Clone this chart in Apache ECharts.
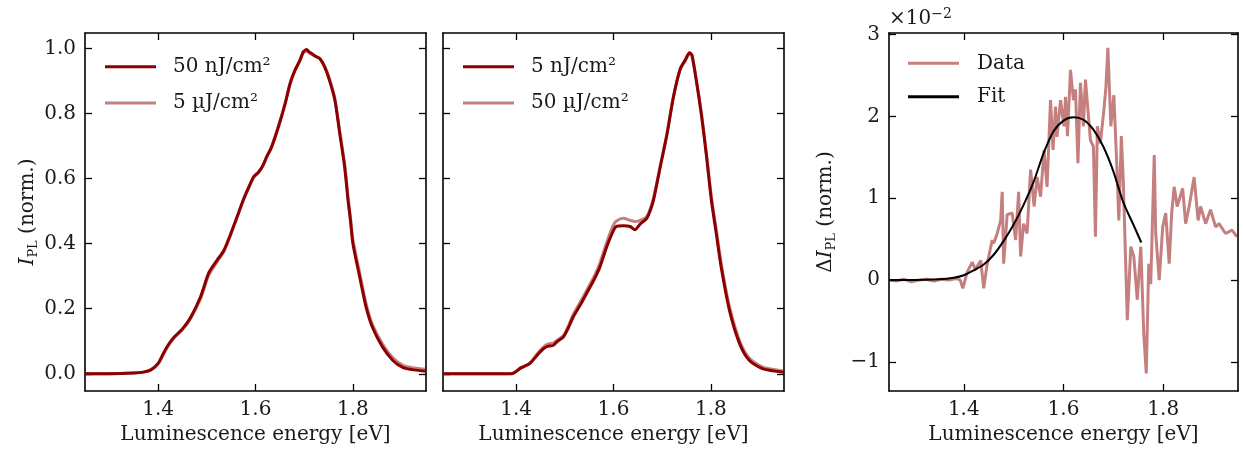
<!DOCTYPE html>
<html>
<head>
<meta charset="utf-8">
<script src="https://cdn.jsdelivr.net/npm/echarts@6/dist/echarts.min.js"></script>
<style>
  html, body { margin: 0; padding: 0; background: #fff; }
  #chart { width: 1243px; height: 457px; }
</style>
</head>
<body>
<div id="chart"></div>
<script>
// ---- Tick positions -------------------------------------------------------
const xTicks = [1.4, 1.6, 1.8];
const yTicksPL = [0.0, 0.2, 0.4, 0.6, 0.8, 1.0];
const yTicksDiff = [-1, 0, 1, 2, 3];

// ---- Panel 1: normalised PL, 50 nJ/cm² vs 5 µJ/cm² ------------------------
const p1Energy = [1.25, 1.30, 1.35, 1.37, 1.385, 1.40, 1.41, 1.42, 1.433, 1.45, 1.467, 1.487,
  1.504, 1.521, 1.535, 1.548, 1.562, 1.575, 1.585, 1.596, 1.606, 1.615, 1.623, 1.633, 1.647,
  1.661, 1.671, 1.681, 1.691, 1.698, 1.705, 1.710, 1.715, 1.725, 1.732, 1.742, 1.752, 1.763,
  1.773, 1.783, 1.790, 1.795, 1.800, 1.814, 1.827, 1.840, 1.861, 1.882, 1.902, 1.925, 1.95];
const p1Low = [0.000, 0.000, 0.002, 0.005, 0.012, 0.032, 0.060, 0.087, 0.113, 0.138, 0.174, 0.236,
  0.310, 0.349, 0.379, 0.426, 0.482, 0.535, 0.570, 0.605, 0.620, 0.640, 0.667, 0.697, 0.759,
  0.831, 0.892, 0.933, 0.964, 0.990, 0.997, 0.990, 0.985, 0.975, 0.969, 0.943, 0.902, 0.841,
  0.738, 0.636, 0.533, 0.470, 0.400, 0.297, 0.205, 0.143, 0.082, 0.041, 0.020, 0.012, 0.008];
const p1High = [0.000, 0.000, 0.002, 0.005, 0.011, 0.030, 0.057, 0.084, 0.110, 0.135, 0.170, 0.230,
  0.303, 0.344, 0.376, 0.423, 0.480, 0.533, 0.568, 0.603, 0.618, 0.640, 0.668, 0.699, 0.762,
  0.834, 0.894, 0.934, 0.962, 0.986, 0.993, 0.988, 0.983, 0.975, 0.970, 0.946, 0.906, 0.846,
  0.745, 0.645, 0.543, 0.481, 0.412, 0.309, 0.216, 0.152, 0.091, 0.049, 0.027, 0.018, 0.014];

// ---- Panel 2: normalised PL, 5 nJ/cm² vs 50 µJ/cm² ------------------------
const p2Energy = [1.25, 1.30, 1.35, 1.391, 1.41, 1.428, 1.445, 1.456, 1.466, 1.476, 1.485, 1.497,
  1.507, 1.517, 1.535, 1.552, 1.562, 1.572, 1.586, 1.600, 1.606, 1.620, 1.634, 1.644, 1.655,
  1.668, 1.675, 1.682, 1.696, 1.710, 1.723, 1.737, 1.747, 1.756, 1.761, 1.771, 1.781, 1.791,
  1.801, 1.811, 1.821, 1.838, 1.859, 1.879, 1.907, 1.95];
const p2Low = [0.000, 0.000, 0.000, 0.000, 0.018, 0.031, 0.060, 0.077, 0.085, 0.087, 0.100, 0.113,
  0.140, 0.174, 0.220, 0.267, 0.295, 0.328, 0.390, 0.441, 0.453, 0.455, 0.453, 0.443, 0.461,
  0.477, 0.500, 0.533, 0.636, 0.738, 0.851, 0.938, 0.964, 0.987, 0.980, 0.892, 0.790, 0.667,
  0.533, 0.431, 0.328, 0.195, 0.092, 0.041, 0.015, 0.005];
const p2High = [0.000, 0.000, 0.000, 0.001, 0.019, 0.033, 0.064, 0.082, 0.092, 0.094, 0.104, 0.117,
  0.146, 0.181, 0.229, 0.276, 0.305, 0.340, 0.404, 0.458, 0.470, 0.478, 0.472, 0.468, 0.472,
  0.483, 0.506, 0.540, 0.640, 0.740, 0.852, 0.936, 0.962, 0.984, 0.979, 0.895, 0.796, 0.675,
  0.543, 0.443, 0.340, 0.207, 0.101, 0.048, 0.020, 0.008];

// ---- Panel 3: PL difference (×10⁻²) and its fit ---------------------------
const p3Energy = [1.250, 1.265, 1.280, 1.295, 1.310, 1.325, 1.340, 1.355, 1.370, 1.385, 1.393,
  1.398, 1.407, 1.417, 1.423, 1.434, 1.440, 1.447, 1.457, 1.460, 1.467, 1.474, 1.477, 1.480,
  1.487, 1.497, 1.504, 1.510, 1.514, 1.520, 1.527, 1.534, 1.541, 1.547, 1.554, 1.561, 1.567,
  1.574, 1.579, 1.584, 1.587, 1.594, 1.601, 1.604, 1.608, 1.614, 1.620, 1.624, 1.629, 1.634,
  1.640, 1.644, 1.649, 1.654, 1.660, 1.664, 1.668, 1.674, 1.681, 1.685, 1.689, 1.695, 1.701,
  1.707, 1.711, 1.716, 1.720, 1.728, 1.735, 1.741, 1.748, 1.755, 1.761, 1.766, 1.771, 1.775,
  1.782, 1.785, 1.792, 1.799, 1.805, 1.812, 1.817, 1.822, 1.828, 1.839, 1.845, 1.852, 1.862,
  1.870, 1.875, 1.885, 1.895, 1.905, 1.912, 1.925, 1.938, 1.948];
const p3Diff = [0.00, -0.01, 0.01, -0.02, 0.00, 0.01, -0.01, 0.01, 0.00, 0.02, 0.00,
  -0.10, 0.10, 0.22, 0.13, 0.24, -0.10, 0.20, 0.49, 0.45, 0.57, 0.73, 1.08, 0.20,
  0.80, 0.82, 0.49, 1.08, 0.29, 0.69, 0.57, 1.35, 0.90, 1.26, 1.02, 1.59, 1.14,
  2.20, 1.59, 2.12, 1.75, 2.20, 1.88, 2.24, 1.76, 2.57, 2.20, 2.33, 1.43, 2.41,
  1.88, 2.45, 2.08, 1.71, 1.63, 0.53, 1.88, 1.67, 2.08, 2.35, 2.84, 1.88, 2.26,
  1.39, 0.73, 1.76, 1.20, -0.49, 0.41, 0.29, -0.24, 0.41, -0.65, -1.14, 0.20, -0.05,
  1.53, 0.57, 0.00, 0.65, 0.82, 0.20, 0.82, 1.14, 0.90, 1.12, 0.69, 0.90, 1.26,
  0.73, 0.90, 0.69, 0.86, 0.65, 0.69, 0.57, 0.61, 0.53];
const fitEnergy = [1.25, 1.30, 1.35, 1.38, 1.40, 1.42, 1.44, 1.46, 1.48, 1.50, 1.52, 1.54,
  1.56, 1.58, 1.60, 1.62, 1.64, 1.66, 1.68, 1.70, 1.72, 1.74, 1.756];
const fitDiff = [0.00, 0.00, 0.01, 0.03, 0.06, 0.12, 0.19, 0.31, 0.48, 0.68, 0.92, 1.20,
  1.55, 1.82, 1.95, 1.99, 1.96, 1.84, 1.63, 1.33, 0.95, 0.68, 0.46];

// ---- Styling ----------------------------------------------------------------
const FONT = '"DejaVu Serif", serif';
const INK = '#1a1a1a';
const DARK = '#8b0000';
const LIGHT = 'rgba(139,0,0,0.5)';
const FS = 20;

const pairs = (xs, ys) => xs.map((x, i) => [x, ys[i]]);

const panels = [
  { left: 85, width: 341, yMin: -0.053, yMax: 1.048, yTicks: yTicksPL, yLabels: true,
    yFmt: v => v.toFixed(1), yName: '{i|I}{s|PL}{n| (norm.)}', yGap: 42 },
  { left: 443, width: 341, yMin: -0.053, yMax: 1.048, yTicks: yTicksPL, yLabels: false,
    yFmt: v => v.toFixed(1), yName: '', yGap: 40 },
  { left: 889, width: 349, yMin: -1.355, yMax: 3.02, yTicks: yTicksDiff, yLabels: true,
    yFmt: v => (v < 0 ? '\u2212' + Math.abs(v) : String(v)),
    yName: '{n|\u0394}{i|I}{s|PL}{n| (norm.)}', yGap: 51 }
];

const spine = { onZero: false, lineStyle: { color: '#000', width: 1.6 } };
const tickStyle = { color: '#000', width: 1.3 };
const richName = {
  n: { fontFamily: FONT, fontSize: FS, lineHeight: 24, color: INK },
  i: { fontFamily: FONT, fontSize: FS, lineHeight: 24, fontStyle: 'italic', color: INK },
  s: { fontFamily: FONT, fontSize: 13, lineHeight: 13, verticalAlign: 'bottom', color: INK }
};

const grid = [], xAxis = [], yAxis = [];
panels.forEach((p, i) => {
  grid.push({ left: p.left, top: 33, width: p.width, height: 358, outerBoundsMode: 'none' });
  xAxis.push({
    type: 'value', gridIndex: i, position: 'bottom', min: 1.25, max: 1.95,
    axisLine: spine,
    axisTick: { inside: true, length: 7, customValues: xTicks, lineStyle: tickStyle },
    axisLabel: { customValues: xTicks, formatter: v => v.toFixed(1), margin: 9,
      fontFamily: FONT, fontSize: FS, color: INK },
    splitLine: { show: false },
    name: 'Luminescence energy [eV]', nameLocation: 'middle', nameGap: 33,
    nameTextStyle: { fontFamily: FONT, fontSize: FS, color: INK }
  });
  xAxis.push({
    type: 'value', gridIndex: i, position: 'top', min: 1.25, max: 1.95,
    axisLine: spine,
    axisTick: { inside: true, length: 7, customValues: xTicks, lineStyle: tickStyle },
    axisLabel: { show: false }, splitLine: { show: false }
  });
  yAxis.push({
    type: 'value', gridIndex: i, position: 'left', min: p.yMin, max: p.yMax,
    axisLine: spine,
    axisTick: { inside: true, length: 7, customValues: p.yTicks, lineStyle: tickStyle },
    axisLabel: { show: p.yLabels, customValues: p.yTicks, formatter: p.yFmt, margin: 9,
      fontFamily: FONT, fontSize: FS, color: INK },
    splitLine: { show: false },
    name: p.yName, nameLocation: 'middle', nameRotate: 90, nameGap: p.yGap,
    nameTextStyle: { fontFamily: FONT, fontSize: FS, color: INK, rich: richName }
  });
  yAxis.push({
    type: 'value', gridIndex: i, position: 'right', min: p.yMin, max: p.yMax,
    axisLine: spine,
    axisTick: { inside: true, length: 7, customValues: p.yTicks, lineStyle: tickStyle },
    axisLabel: { show: false }, splitLine: { show: false }
  });
});

function line(name, xs, ys, panel, color, width, smooth) {
  return {
    type: 'line', name: name, data: pairs(xs, ys),
    xAxisIndex: panel * 2, yAxisIndex: panel * 2,
    color: color, symbol: 'none', showSymbol: false,
    smooth: smooth || false,
    lineStyle: { color: color, width: width }, itemStyle: { color: color },
    emphasis: { disabled: true }
  };
}

const series = [
  line('50 nJ/cm\u00b2', p1Energy, p1Low, 0, DARK, 3, 0.25),
  line('5 \u00b5J/cm\u00b2', p1Energy, p1High, 0, LIGHT, 3, 0.25),
  line('5 nJ/cm\u00b2', p2Energy, p2Low, 1, DARK, 3, 0.25),
  line('50 \u00b5J/cm\u00b2', p2Energy, p2High, 1, LIGHT, 3, 0.25),
  line('Data', p3Energy, p3Diff, 2, LIGHT, 3),
  line('Fit', fitEnergy, fitDiff, 2, '#000', 2, 0.3)
];

const legendBase = {
  orient: 'vertical', padding: 0, icon: 'rect', itemWidth: 51, itemHeight: 3,
  selectedMode: false,
  textStyle: { fontFamily: FONT, fontSize: FS, color: INK, lineHeight: 22, padding: [0, 0, 0, 12] }
};

const option = {
  animation: false,
  backgroundColor: '#fff',
  grid: grid, xAxis: xAxis, yAxis: yAxis, series: series,
  legend: [
    Object.assign({}, legendBase, { left: 105, top: 55.7, itemGap: 14.3,
      data: ['50 nJ/cm\u00b2', '5 \u00b5J/cm\u00b2'] }),
    Object.assign({}, legendBase, { left: 463, top: 55.7, itemGap: 14.3,
      data: ['5 nJ/cm\u00b2', '50 \u00b5J/cm\u00b2'] }),
    Object.assign({}, legendBase, { left: 908, top: 52.3, itemGap: 11.4,
      data: ['Data', 'Fit'],
      textStyle: Object.assign({}, legendBase.textStyle, { padding: [0, 0, 0, 13] }) })
  ],
  graphic: [{
    type: 'text', left: 889, top: 7,
    style: {
      text: '{b|\u00d710}{s|\u22122}',
      rich: {
        b: { fontFamily: FONT, fontSize: FS, lineHeight: 24, fill: INK },
        s: { fontFamily: FONT, fontSize: 14, lineHeight: 14, verticalAlign: 'top', fill: INK }
      }
    }
  }]
};

const chart = echarts.init(document.getElementById('chart'), null, { renderer: 'canvas' });
chart.setOption(option);
</script>
</body>
</html>
